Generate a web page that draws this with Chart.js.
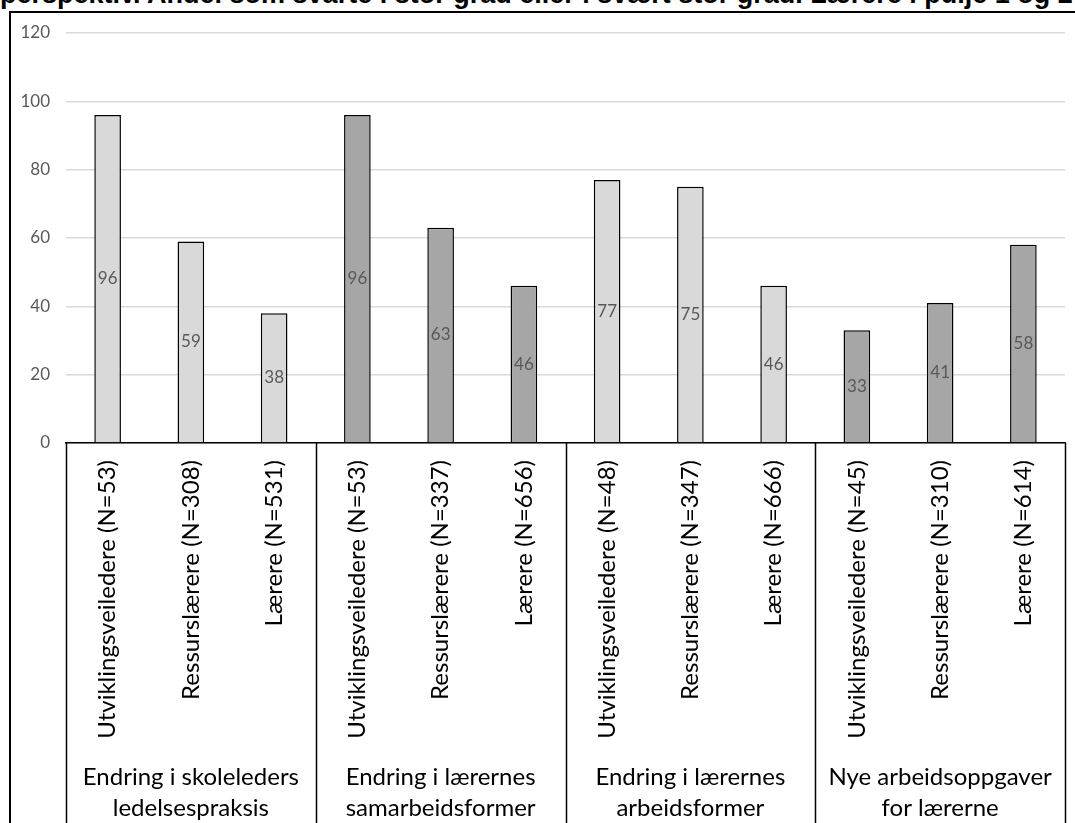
<!DOCTYPE html>
<html>
<head>
<meta charset="utf-8">
<script src="https://cdn.jsdelivr.net/npm/chart.js@4/dist/chart.umd.min.js"></script>
<style>
  html, body { margin: 0; padding: 0; background: #fff; overflow: hidden; }
  #wrap { position: relative; width: 1075px; height: 823px; overflow: hidden; }
  #title {
    position: absolute; left: 0; top: -19px; white-space: nowrap;
    font: bold 27px "Liberation Sans", Arial, sans-serif; line-height: 27px; color: #000;
  }
  #frame {
    position: absolute; left: 9px; top: 11px; width: 1100px; height: 900px;
    border-left: 2px solid #000; border-top: 2px solid #000; pointer-events: none;
  }
  canvas { position: absolute; left: 0; top: 0; }
</style>
</head>
<body>
<div id="wrap">
  <div id="title">perspektiv. Andel som svarte i stor grad eller i svært stor grad. Lærere i pulje 1 og 2</div>
  <canvas id="chart" width="1075" height="823"></canvas>
  <div id="frame"></div>
</div>
<script>
// chart data
const categories = [
  'Utviklingsveiledere (N=53)', 'Ressurslærere (N=308)', 'Lærere (N=531)',
  'Utviklingsveiledere (N=53)', 'Ressurslærere (N=337)', 'Lærere (N=656)',
  'Utviklingsveiledere (N=48)', 'Ressurslærere (N=347)', 'Lærere (N=666)',
  'Utviklingsveiledere (N=45)', 'Ressurslærere (N=310)', 'Lærere (N=614)'
];
const values = [96, 59, 38, 96, 63, 46, 77, 75, 46, 33, 41, 58];
const groupLabels = [
  ['Endring i skoleleders', 'ledelsespraksis'],
  ['Endring i lærernes', 'samarbeidsformer'],
  ['Endring i lærernes', 'arbeidsformer'],
  ['Nye arbeidsoppgaver', 'for lærerne']
];
const yTicks = [0, 20, 40, 60, 80, 100, 120];

const LIGHT = '#d9d9d9';
const DARK = '#a6a6a6';
const FONT = 'Lato, Calibri, sans-serif';
const perGroup = categories.length / groupLabels.length;

// value labels in the middle of each bar
const barLabels = {
  id: 'barLabels',
  afterDatasetsDraw(chart) {
    const ctx = chart.ctx;
    const meta = chart.getDatasetMeta(0);
    ctx.save();
    ctx.font = '17px ' + FONT;
    ctx.fillStyle = '#595959';
    ctx.textAlign = 'center';
    ctx.textBaseline = 'middle';
    meta.data.forEach((bar, i) => {
      ctx.fillText(values[i], bar.x, (bar.y + bar.base) / 2);
    });
    ctx.restore();
  }
};

// second level of the category axis: separators + group names
const groupAxis = {
  id: 'groupAxis',
  afterDraw(chart) {
    const ctx = chart.ctx;
    const x = chart.scales.x;
    const area = chart.chartArea;
    const step = (area.right - area.left) / categories.length;
    ctx.save();
    ctx.strokeStyle = '#000';
    ctx.lineWidth = 1.5;
    for (let g = 0; g <= groupLabels.length; g++) {
      const px = Math.round(x.getPixelForValue(g * perGroup) - step / 2) + 0.5;
      ctx.beginPath();
      ctx.moveTo(px, area.bottom);
      ctx.lineTo(px, chart.height);
      ctx.stroke();
    }
    ctx.font = '24px ' + FONT;
    ctx.fillStyle = '#000';
    ctx.textAlign = 'center';
    ctx.textBaseline = 'middle';
    groupLabels.forEach((lines, g) => {
      const cx = (x.getPixelForValue(g * perGroup) + x.getPixelForValue(g * perGroup + perGroup - 1)) / 2;
      lines.forEach((t, j) => ctx.fillText(t, cx, area.bottom + 334 + j * 31));
    });
    ctx.restore();
  }
};

new Chart(document.getElementById('chart'), {
  type: 'bar',
  data: {
    labels: categories,
    datasets: [{
      data: values,
      backgroundColor: c => Math.floor(c.dataIndex / perGroup) % 2 ? DARK : LIGHT,
      borderColor: '#000',
      borderWidth: 1.5,
      categoryPercentage: 1,
      barPercentage: 0.32
    }]
  },
  options: {
    responsive: false,
    animation: false,
    layout: { padding: { left: 0, right: 10, top: 33, bottom: 0 } },
    plugins: {
      legend: { display: false },
      tooltip: { enabled: false }
    },
    scales: {
      x: {
        grid: { display: false, drawTicks: false },
        border: { display: true, color: '#000', width: 1.5 },
        ticks: {
          autoSkip: false, minRotation: 90, maxRotation: 90,
          padding: 17, color: '#000', font: { family: FONT, size: 24 }
        },
        afterFit: s => { s.height = 380; }
      },
      y: {
        min: 0, max: 120,
        afterBuildTicks: s => { s.ticks = yTicks.map(v => ({ value: v })); },
        grid: { color: '#d9d9d9', lineWidth: 1.5, drawTicks: false },
        border: { display: false },
        ticks: { padding: 16, color: '#595959', font: { family: FONT, size: 17 } },
        afterFit: s => { s.width = 66; }
      }
    }
  },
  plugins: [barLabels, groupAxis]
});
</script>
</body>
</html>
